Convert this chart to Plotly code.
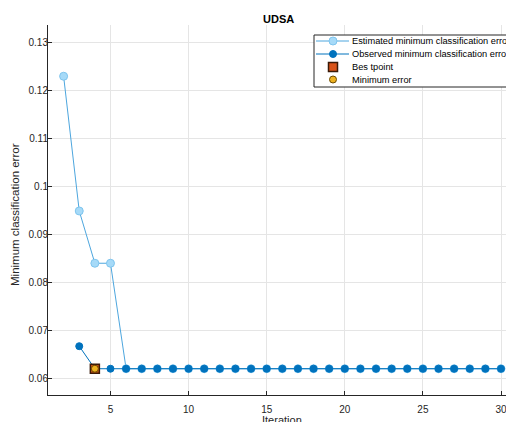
import plotly.graph_objects as go

# Bayesian optimisation trace for UDSA
est_iter = list(range(2, 31))
est_err = [0.1230, 0.0949, 0.0840, 0.0840] + [0.0620] * 25

obs_iter = list(range(3, 31))
obs_err = [0.0667] + [0.0620] * 27

best_iter = [4]
best_err = [0.0620]
min_iter = [4]
min_err = [0.0620]

legend_names = [
    "Estimated minimum classification error",
    "Observed minimum classification error",
    "Bes tpoint",
    "Minimum error",
]

font = "Liberation Sans, Arial, sans-serif"
axis_col = "#262626"
grid_col = "#E5E5E5"
est_line, est_fill, est_edge = "#4DA6DE", "#A6DAF8", "#7FC5EE"
obs_col = "#0072BD"
best_fill, best_edge = "#D95319", "#3A1A08"
min_fill, min_edge = "#EDB120", "#6B4A00"

W, H = 506, 422
ML, MR, MT, MB = 48, 0, 25, 27
PW, PH = W - ML - MR, H - MT - MB

fig = go.Figure()
fig.add_trace(go.Scatter(
    x=est_iter, y=est_err, mode="lines+markers", name=legend_names[0],
    line=dict(color=est_line, width=1),
    marker=dict(symbol="circle", size=8, color=est_fill, line=dict(color=est_edge, width=1)),
))
fig.add_trace(go.Scatter(
    x=obs_iter, y=obs_err, mode="lines+markers", name=legend_names[1],
    line=dict(color=obs_col, width=1),
    marker=dict(symbol="circle", size=7, color=obs_col, line=dict(color=obs_col, width=1)),
))
fig.add_trace(go.Scatter(
    x=best_iter, y=best_err, mode="markers", name=legend_names[2],
    marker=dict(symbol="square", size=9, color=best_fill, line=dict(color=best_edge, width=1.5)),
))
fig.add_trace(go.Scatter(
    x=min_iter, y=min_err, mode="markers", name=legend_names[3],
    marker=dict(symbol="circle", size=7, color=min_fill, line=dict(color=min_edge, width=1)),
))


# Helpers to place decorations in pixel space
def px(xp):
    return (xp - ML) / PW


def py(yp):
    return (H - MB - yp) / PH


shapes, annotations = [], []

# Legend box with tightly spaced rows
shapes.append(dict(type="rect", xref="paper", yref="paper",
                   x0=px(314), x1=px(520), y0=py(87), y1=py(35),
                   fillcolor="white", line=dict(color=axis_col, width=1), layer="above"))
rows = [41, 54, 67, 79.5]


def dot(yrow, size, fill, edge, kind="circle", ew=1):
    r = size / 2
    shapes.append(dict(type=kind, xref="paper", yref="paper",
                       xsizemode="pixel", ysizemode="pixel",
                       xanchor=px(333), yanchor=py(yrow),
                       x0=-r, x1=r, y0=-r, y1=r,
                       fillcolor=fill, line=dict(color=edge, width=ew), layer="above"))


for yrow, col in zip(rows[:2], [est_line, obs_col]):
    shapes.append(dict(type="line", xref="paper", yref="paper",
                       x0=px(316), x1=px(349), y0=py(yrow), y1=py(yrow),
                       line=dict(color=col, width=1), layer="above"))
dot(rows[0], 8, est_fill, est_edge)
dot(rows[1], 7, obs_col, obs_col)
dot(rows[2], 9, best_fill, best_edge, kind="rect", ew=1.5)
dot(rows[3], 7, min_fill, min_edge)

for yrow, name in zip(rows, legend_names):
    annotations.append(dict(text=name, xref="paper", yref="paper",
                            x=px(350), y=py(yrow), xanchor="left", yanchor="middle",
                            showarrow=False, font=dict(size=9.25, color="#000000")))

# Title and axis titles
annotations.append(dict(text="<b>UDSA</b>", xref="paper", yref="paper",
                        x=px(278), y=py(19), xanchor="center", yanchor="middle",
                        showarrow=False, font=dict(size=11, color="#000000")))
annotations.append(dict(text="Iteration", xref="paper", yref="paper",
                        x=px(282), y=py(420), xanchor="center", yanchor="middle",
                        showarrow=False, font=dict(size=11, color=axis_col)))
annotations.append(dict(text="Minimum classification error", xref="paper", yref="paper",
                        x=px(14.5), y=py(214.5), xanchor="center", yanchor="middle",
                        textangle=-90, showarrow=False,
                        font=dict(size=11.5, color=axis_col)))

fig.update_layout(
    width=W, height=H,
    margin=dict(l=ML, r=MR, t=MT, b=MB, autoexpand=False),
    paper_bgcolor="white", plot_bgcolor="white",
    font=dict(family=font, size=10, color=axis_col),
    showlegend=False,
    shapes=shapes, annotations=annotations,
    xaxis=dict(
        range=[1.0, 30.32], tickvals=[5, 10, 15, 20, 25, 30],
        showgrid=True, gridcolor=grid_col, gridwidth=1,
        showline=True, linecolor=axis_col, linewidth=1,
        ticks="inside", ticklen=4, tickcolor=axis_col,
        ticklabelstandoff=5, ticklabeloverflow="allow", automargin=False,
        zeroline=False, mirror=False,
    ),
    yaxis=dict(
        range=[0.05652, 0.13369],
        tickvals=[0.06, 0.07, 0.08, 0.09, 0.10, 0.11, 0.12, 0.13],
        ticktext=["0.06", "0.07", "0.08", "0.09", "0.1", "0.11", "0.12", "0.13"],
        showgrid=True, gridcolor=grid_col, gridwidth=1,
        showline=True, linecolor=axis_col, linewidth=1,
        ticks="inside", ticklen=4, tickcolor=axis_col,
        ticklabelstandoff=-3, ticklabeloverflow="allow", automargin=False,
        zeroline=False, mirror=False,
    ),
)

fig.write_html("out.html")
